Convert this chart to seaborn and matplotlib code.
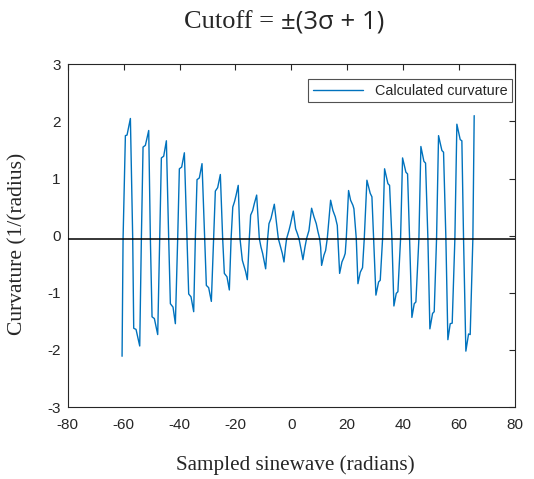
import matplotlib
matplotlib.use("Agg")
import matplotlib.pyplot as plt
import numpy as np
import pandas as pd
import seaborn as sns

# ---- data ----
x_left = [-60.58, -60.22, -59.39, -58.80, -57.60, -56.77, -56.41, -55.58, -54.26,
          -53.67, -53.07, -52.24, -51.04, -50.45, -49.85, -49.02, -47.82,
          -47.11, -46.51, -45.68, -44.72, -43.89, -43.29, -42.34, -41.50,
          -40.67, -40.07, -39.24, -38.28, -37.33, -36.73, -35.90, -34.94,
          -34.35, -33.75, -32.92, -31.96, -31.01, -30.41, -29.58, -28.62,
          -27.79, -27.19, -26.36, -25.40, -24.57, -23.97, -23.02, -22.18]
curv_left = [-2.11, -0.05, 1.75, 1.76, 2.05, -0.05, -1.62, -1.64, -1.93,
             -0.05, 1.55, 1.58, 1.84, -0.05, -1.42, -1.45, -1.73,
             -0.05, 1.36, 1.39, 1.66, -0.05, -1.19, -1.25, -1.54,
             -0.05, 1.17, 1.20, 1.45, -0.05, -1.02, -1.07, -1.33,
             -0.05, 0.98, 1.01, 1.26, -0.05, -0.87, -0.91, -1.15,
             -0.05, 0.78, 0.84, 1.07, -0.05, -0.66, -0.72, -0.95]

x_mid = [-21.55, -20.95, -20.30, -19.80, -19.00, -18.37, -17.53, -16.82, -16.34,
         -15.74, -15.03, -14.55, -13.83, -13.24, -12.40, -11.45, -10.85, -10.26,
         -9.78, -9.18, -8.47, -7.99, -7.27, -6.08, -5.01, -4.65, -3.82, -3.22,
         -2.62, -2.07, -1.67, -0.84, -0.24, 0.72, 1.55, 2.15, 2.74, 3.58, 4.17,
         4.89, 5.48, 6.32, 7.27, 8.11, 8.94, 9.54, 10.14, 10.50, 10.85, 11.69,
         12.28, 12.88, 14.07, 14.90, 15.74, 16.46, 16.70, 17.30, 18.13, 18.84,
         19.30, 19.68, 20.50, 21.23, 22.07, 22.42, 23.26, 23.86, 24.69, 25.50]
curv_mid = [-0.05, 0.50, 0.60, 0.70, 0.88, -0.05, -0.43, -0.55, -0.63,
            -0.77, -0.05, 0.36, 0.44, 0.56, 0.71, -0.05, -0.20, -0.31,
            -0.43, -0.58, -0.05, 0.21, 0.30, 0.55, 0.09, -0.05, -0.20, -0.31,
            -0.46, -0.20, -0.05, 0.09, 0.21, 0.43, 0.12, 0.04, -0.05, -0.26, -0.42,
            -0.20, -0.05, 0.09, 0.48, 0.33, 0.21, 0.07, -0.05, -0.20, -0.52, -0.34,
            -0.26, -0.05, 0.62, 0.44, 0.33, 0.18, -0.05, -0.66, -0.46, -0.38,
            -0.31, -0.05, 0.79, 0.62, 0.53, 0.47, -0.05, -0.84, -0.64, -0.56]

x_right = [26.12, 27.07, 28.26, 28.86, 29.46, 30.29, 31.25, 31.84,
           32.68, 33.39, 34.59, 35.18, 36.02, 36.73, 37.57, 38.16,
           39.12, 39.83, 41.03, 41.62, 42.34, 43.17, 44.01, 44.60,
           45.68, 46.39, 47.47, 48.06, 48.90, 49.61, 50.57, 51.16,
           52.00, 52.71, 53.91, 54.50, 55.34, 56.05, 56.89, 57.60,
           58.56, 59.27, 60.47, 61.06, 61.66, 62.49, 63.45, 64.04,
           65.00, 65.47]
curv_right = [-0.05, 0.97, 0.74, 0.68, -0.05, -1.04, -0.81, -0.78,
              -0.05, 1.17, 0.91, 0.88, -0.05, -1.23, -1.01, -0.98,
              -0.05, 1.36, 1.11, 1.08, -0.05, -1.43, -1.19, -1.16,
              -0.05, 1.56, 1.30, 1.27, -0.05, -1.63, -1.36, -1.33,
              -0.05, 1.75, 1.49, 1.46, -0.05, -1.82, -1.54, -1.53,
              -0.05, 1.95, 1.68, 1.66, -0.05, -2.02, -1.72, -1.73,
              -0.05, 2.10]

cutoff_level = -0.05
x_ticks = [-80, -60, -40, -20, 0, 20, 40, 60, 80]
y_ticks = [-3, -2, -1, 0, 1, 2, 3]
series_label = "Calculated curvature"

# ---- build and draw ----
df = pd.DataFrame({
    "x": x_left + x_mid + x_right,
    "curvature": curv_left + curv_mid + curv_right,
})

sns.set_style("white")
plt.rcParams['font.family'] = ['Liberation Sans', 'DejaVu Sans']

fig = plt.figure(figsize=(5.34, 4.79), dpi=100)
ax = fig.add_axes([0.127, 0.150, 0.837, 0.716])

sns.lineplot(data=df, x="x", y="curvature", ax=ax, color="#0072BD",
             linewidth=1.0, estimator=None, sort=False, label=series_label)
ax.axhline(cutoff_level, color="black", linewidth=1.1, zorder=5)

ax.set_xlim(-80, 80)
ax.set_ylim(-3, 3)
ax.set_xticks(x_ticks)
ax.set_yticks(y_ticks)
ax.set_xticklabels([str(v) for v in x_ticks])
ax.set_yticklabels([str(v) for v in y_ticks])
ax.set_xlabel("")
ax.set_ylabel("")
ax.tick_params(direction="in", length=4, width=0.8, top=True, right=True,
               labelsize=11, colors="#262626")
ax.tick_params(axis="x", pad=8)
ax.tick_params(axis="y", pad=5)
for s in ax.spines.values():
    s.set_color("#262626")
    s.set_linewidth(0.8)

leg = ax.legend(loc="upper right", bbox_to_anchor=(0.993, 0.956),
                fontsize=10.4, frameon=True, fancybox=False,
                handlelength=3.5, borderaxespad=0.0, borderpad=0.3)
leg.get_frame().set_edgecolor("#262626")
leg.get_frame().set_linewidth(0.8)

# title in two fonts
fig.text(281 / 534, 1 - 22 / 479, "Cutoff = ", ha="right", va="center",
         fontsize=19, family=["Liberation Serif", "DejaVu Serif"])
fig.text(281 / 534, 1 - 22 / 479, "±(3σ + 1)", ha="left", va="center",
         fontsize=18.5, family=["Open Sans", "DejaVu Sans"])

fig.text(18 / 534, 1 - 244 / 479, "Curvature (1/(radius)", rotation=90,
         ha="center", va="center", fontsize=15.5,
         family=["Liberation Serif", "DejaVu Serif"])
fig.text(295 / 534, 1 - 465 / 479, "Sampled sinewave (radians)",
         ha="center", va="center", fontsize=15.2,
         family=["Liberation Serif", "DejaVu Serif"])

fig.savefig("out.png", dpi=100)
